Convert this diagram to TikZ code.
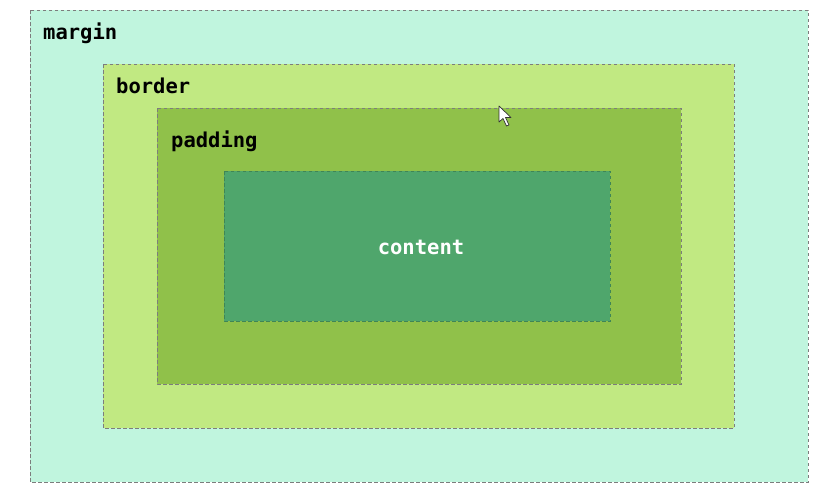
\documentclass[tikz,border=0pt]{standalone}
\usepackage{fontspec}
\newfontfamily\labelfont{DejaVu Sans Mono}
\definecolor{marginc}{RGB}{192,245,222}
\definecolor{borderc}{RGB}{193,233,130}
\definecolor{paddingc}{RGB}{144,193,74}
\definecolor{contentc}{RGB}{79,166,108}
\definecolor{dashc}{RGB}{125,125,125}
\tikzset{
  layer/.style={draw=dashc, dash pattern=on 3.5pt off 2.5pt, line width=0.9pt},
  lbl/.style={font=\labelfont\bfseries\fontsize{20.5}{24}\selectfont, inner sep=0pt, anchor=base west},
}
\begin{document}
\begin{tikzpicture}[x=1pt,y=-1pt]
\useasboundingbox[fill=white] (0,0) rectangle (817,491);
\path[layer, fill=marginc] (30,10) rectangle (808,482);
\path[layer, fill=borderc] (103,64) rectangle (734,428);
\path[layer, fill=paddingc] (157,108) rectangle (681,384);
\path[layer, draw=contentc!80!black, fill=contentc] (224,171) rectangle (610,321);
\node[lbl] (m) at (43,39) {margin};
\node[lbl] (b) at (116,93) {border};
\node[lbl] (p) at (171,147) {padding};
\node[lbl, anchor=center, text=white] (c) at (421,247) {content};
% mouse cursor
\draw[fill=white, draw=black!80, line width=0.7pt, line join=round]
  (499,106) -- (499,122) -- (503,118.5) -- (506.5,126) -- (509,125) -- (505.5,117.5) -- (511,117.5) -- cycle;
\end{tikzpicture}
\end{document}
